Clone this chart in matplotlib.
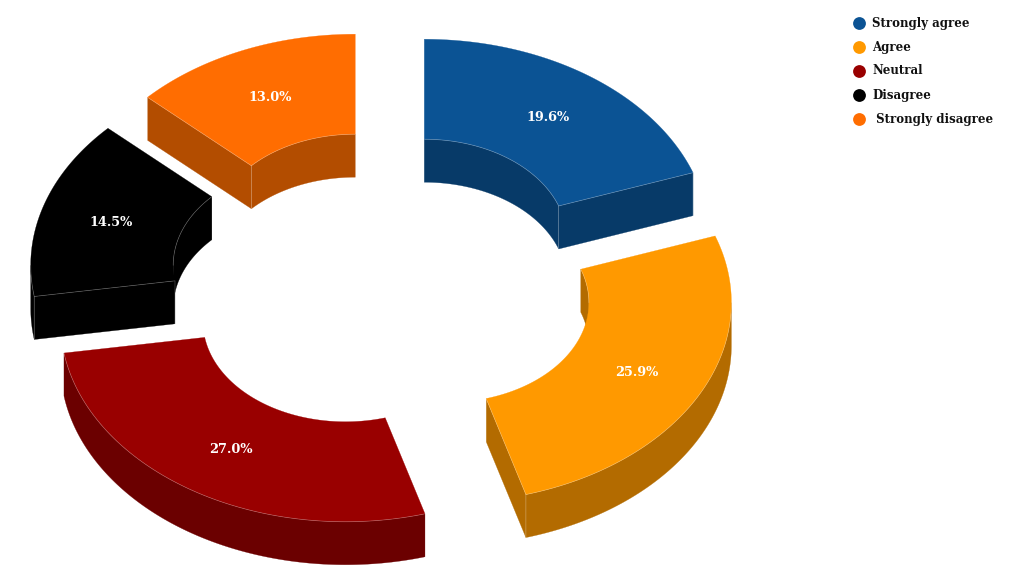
import numpy as np
import matplotlib
matplotlib.use("Agg")
import matplotlib.pyplot as plt

labels = ["Strongly agree", "Agree", "Neutral", "Disagree", " Strongly disagree"]
values = [19.6, 25.9, 27.0, 14.5, 13.0]
colors = ["#0b5394", "#ff9900", "#990000", "#000000", "#ff6d01"]
sides = ["#073a68", "#b36b00", "#6b0000", "#000000", "#b34d00"]

# pie geometry, in pixels of the picture
cx, cy = 383.4, 279.8
rx, ry = 285, 200
hole = 0.5
depth = 43
explode = 70.8

fig = plt.figure(figsize=(10.19, 5.72), dpi=100)
ax = fig.add_axes([0, 0, 1, 1])
ax.set_xlim(0, 1019)
ax.set_ylim(572, 0)
ax.axis("off")


def arc(x0, y0, k, a, b):
    t = np.radians(np.linspace(a, b, 120))
    return x0 + k * rx * np.sin(t), y0 - k * ry * np.cos(t)


def side(x, y, c, z, ends=False):
    # wall going down from the curve x,y, with a faint line on top
    xs = np.r_[x, x[::-1]]
    ys = np.r_[y, y[::-1] + depth]
    ax.fill(xs, ys, facecolor=c, edgecolor=c, linewidth=0.2, zorder=z)
    lx, ly = x, y
    if ends:
        lx = np.r_[x[0], x, x[-1]]
        ly = np.r_[y[0] + depth, y, y[-1] + depth]
    ax.plot(lx, ly, color="white", alpha=0.3, linewidth=0.5, zorder=z + 0.06)


start = 0
for i, v in enumerate(values):
    end = start + v * 3.6
    mid = np.radians((start + end) / 2)
    x0 = cx + explode * np.sin(mid)
    y0 = cy - explode * np.cos(mid) * ry / rx
    z = 2 + i * 0.1
    ox, oy = arc(x0, y0, 1, start, end)
    ix, iy = arc(x0, y0, hole, start, end)

    # radial faces, only the ones turned to the viewer
    if start > 180:
        side(np.array([ix[0], ox[0]]), np.array([iy[0], oy[0]]), sides[i], z, True)
    if end < 180:
        side(np.array([ix[-1], ox[-1]]), np.array([iy[-1], oy[-1]]), sides[i], z, True)

    # outer wall shows on the front half, inner wall on the back half
    if max(start, 90) < min(end, 270):
        fx, fy = arc(x0, y0, 1, max(start, 90), min(end, 270))
        side(fx, fy, sides[i], z)
    if start < 90:
        bx, by = arc(x0, y0, hole, start, min(end, 90))
        side(bx, by, sides[i], z)
    if end > 270:
        bx, by = arc(x0, y0, hole, max(start, 270), end)
        side(bx, by, sides[i], z)

    ax.fill(np.r_[ox, ix[::-1]], np.r_[oy, iy[::-1]], facecolor=colors[i],
            edgecolor=colors[i], linewidth=0.2, zorder=z + 0.05)
    ax.text(x0 + 0.75 * rx * np.sin(mid), y0 - 0.75 * ry * np.cos(mid) + 1, "%.1f%%" % v,
            color="white", fontsize=9.3, fontweight="bold", family="DejaVu Serif",
            ha="center", va="center", zorder=5)
    start = end

# legend
for i, name in enumerate(labels):
    y = 23 + i * 24
    ax.scatter([859], [y], s=85, color=colors[i], linewidths=0, zorder=5)
    ax.text(872, y, name, fontsize=8.5, fontweight="bold", family="DejaVu Serif",
            ha="left", va="center", color="#111111", zorder=5)

fig.savefig("out.png", dpi=100)
